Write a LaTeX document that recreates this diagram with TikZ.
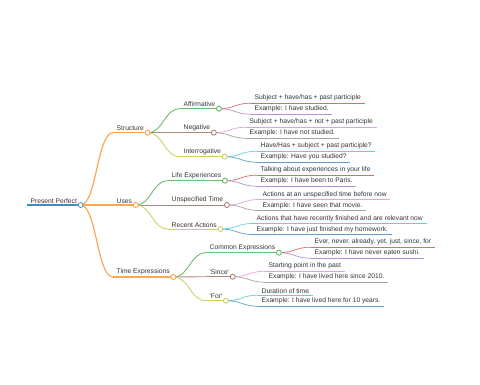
\documentclass[tikz,border=0pt]{standalone}
\usepackage{fontspec}
\setmainfont{Liberation Sans}
\usepackage{tikz}
\usetikzlibrary{positioning}
\definecolor{mmblue}{HTML}{1F77B4}
\definecolor{mmorange}{HTML}{FF7F0E}
\definecolor{mmgreen}{HTML}{2CA02C}
\definecolor{mmred}{HTML}{D62728}
\definecolor{mmpurple}{HTML}{9467BD}
\definecolor{mmbrown}{HTML}{8C564B}
\definecolor{mmpink}{HTML}{E377C2}
\definecolor{mmgray}{HTML}{7F7F7F}
\definecolor{mmolive}{HTML}{BCBD22}
\definecolor{mmcyan}{HTML}{17BECF}
\definecolor{mmtext}{HTML}{333333}

\begin{document}
\begin{tikzpicture}[x=1pt, y=-1pt,
  lbl/.style={anchor=south west, inner xsep=3.5pt, inner ysep=1.7pt,
    font=\fontsize{6.7}{8}\selectfont, text=mmtext},
  w0/.style={line width=1.5pt},
  w1/.style={line width=1.2pt},
  w2/.style={line width=0.9pt},
  w3/.style={line width=0.7pt},
  dot/.style={fill=white, line width=0.8pt}
]
  \useasboundingbox (0,0) rectangle (480,384);

  % root and main branches
  \node[lbl] (pp) at (27,205) {Present Perfect};
  \node[lbl] (st) at (113,132.7) {Structure};
  \node[lbl] (us) at (113,205) {Uses};
  \node[lbl] (te) at (113,277) {Time Expressions};

  % second level
  \node[lbl] (aff)  at (180,108.7) {Affirmative};
  \node[lbl] (neg)  at (180,132.7) {Negative};
  \node[lbl] (itg)  at (180,156.7) {Interrogative};
  \node[lbl] (life) at (168,180.7) {Life Experiences};
  \node[lbl] (unsp) at (168,205)   {Unspecified Time};
  \node[lbl] (rec)  at (168,229)   {Recent Actions};
  \node[lbl] (com)  at (206,252.7) {Common Expressions};
  \node[lbl] (snc)  at (206,276.7) {\textquotesingle Since\textquotesingle};
  \node[lbl] (dur)  at (206,300.7) {\textquotesingle For\textquotesingle};

  % leaves
  \node[lbl] (aff1)  at (251,103.2) {Subject + have/has + past participle};
  \node[lbl] (aff2)  at (251,114.2) {Example: I have studied.};
  \node[lbl] (neg1)  at (246,127.2) {Subject + have/has + not + past participle};
  \node[lbl] (neg2)  at (246,138.2) {Example: I have not studied.};
  \node[lbl] (itg1)  at (257,151.2) {Have/Has + subject + past participle?};
  \node[lbl] (itg2)  at (257,162.2) {Example: Have you studied?};
  \node[lbl] (life1) at (257,175.2) {Talking about experiences in your life};
  \node[lbl] (life2) at (257,186.2) {Example: I have been to Paris.};
  \node[lbl] (unsp1) at (259,199.5) {Actions at an unspecified time before now};
  \node[lbl] (unsp2) at (259,210.5) {Example: I have seen that movie.};
  \node[lbl] (rec1)  at (253,223.5) {Actions that have recently finished and are relevant now};
  \node[lbl] (rec2)  at (253,234.5) {Example: I have just finished my homework.};
  \node[lbl] (com1)  at (311,247.2) {Ever, never, already, yet, just, since, for};
  \node[lbl] (com2)  at (311,258.2) {Example: I have never eaten sushi.};
  \node[lbl] (snc1)  at (265,271.2) {Starting point in the past};
  \node[lbl] (snc2)  at (265,282.2) {Example: I have lived here since 2010.};
  \node[lbl] (dur1)  at (258,295.2) {Duration of time};
  \node[lbl] (dur2)  at (258,306.2) {Example: I have lived here for 10 years.};

  \draw[w0, mmblue!85] (pp.south west) -- (pp.south east);

  % links and underlines
  \foreach \p/\c/\col/\w in {pp/st/mmorange/w1, pp/us/mmorange/w1, pp/te/mmorange/w1,
      st/aff/mmgreen/w2, st/neg/mmbrown/w2, st/itg/mmolive/w2,
      us/life/mmgreen/w2, us/unsp/mmbrown/w2, us/rec/mmolive/w2,
      te/com/mmgreen/w2, te/snc/mmbrown/w2, te/dur/mmolive/w2,
      aff/aff1/mmred/w3, aff/aff2/mmpurple/w3,
      neg/neg1/mmpink/w3, neg/neg2/mmgray/w3,
      itg/itg1/mmcyan/w3, itg/itg2/mmblue/w3,
      life/life1/mmred/w3, life/life2/mmpurple/w3,
      unsp/unsp1/mmpink/w3, unsp/unsp2/mmgray/w3,
      rec/rec1/mmcyan/w3, rec/rec2/mmblue/w3,
      com/com1/mmred/w3, com/com2/mmpurple/w3,
      snc/snc1/mmpink/w3, snc/snc2/mmgray/w3,
      dur/dur1/mmcyan/w3, dur/dur2/mmblue/w3}{
    \draw[\w, \col!70] (\p.south east) .. controls +(16,0) and +(-16,0) .. (\c.south west);
    \draw[\w, \col!70] (\c.south west) -- (\c.south east);
  }

  % fold circles
  \foreach \n/\col in {pp/mmblue, st/mmorange, us/mmorange, te/mmorange,
      aff/mmgreen, neg/mmbrown, itg/mmolive, life/mmgreen, unsp/mmbrown,
      rec/mmolive, com/mmgreen, snc/mmbrown, dur/mmolive}{
    \filldraw[dot, draw=\col!80] (\n.south east) circle (2.5);
  }
\end{tikzpicture}
\end{document}
